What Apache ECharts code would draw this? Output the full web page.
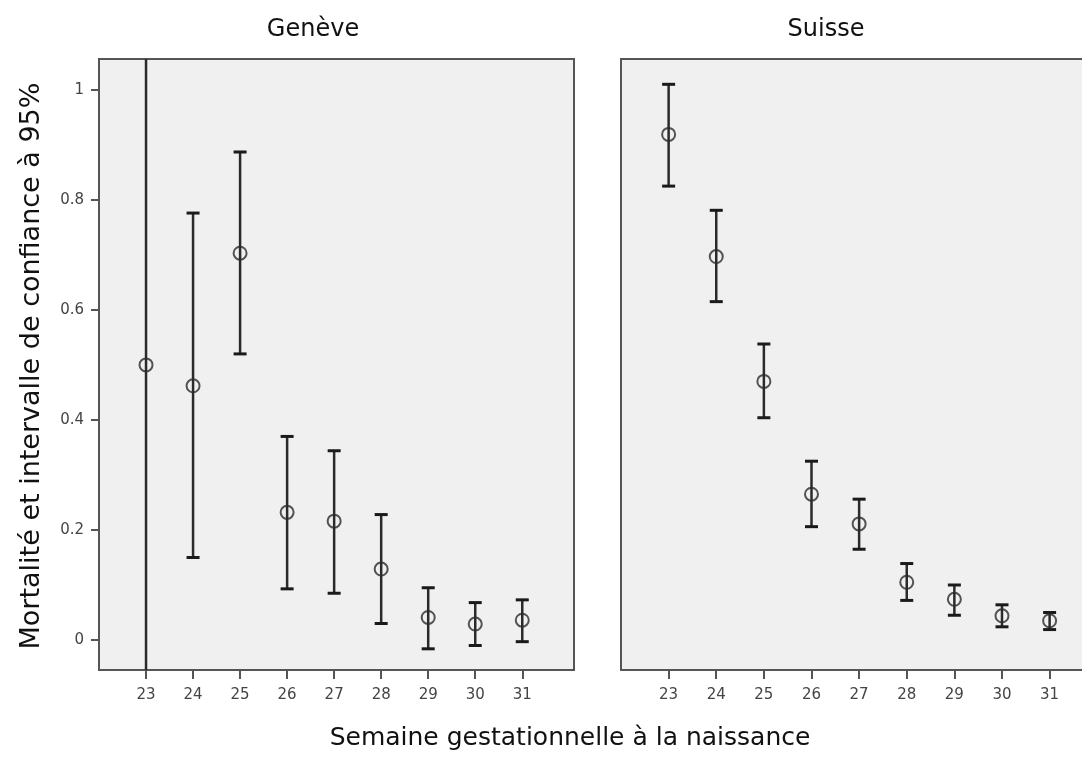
<!DOCTYPE html>
<html>
<head>
<meta charset="utf-8">
<script src="https://cdn.jsdelivr.net/npm/echarts@6/dist/echarts.min.js"></script>
<style>
html,body{margin:0;padding:0;background:#fff;}
#chart{width:1082px;height:760px;}
</style>
</head>
<body>
<div id="chart"></div>
<script>
// ---- data ----
const weeks = [23, 24, 25, 26, 27, 28, 29, 30, 31];
const genevaMort = [0.500, 0.462, 0.703, 0.232, 0.216, 0.129, 0.041, 0.029, 0.036];
const genevaLow  = [-0.19, 0.150, 0.520, 0.093, 0.085, 0.030, -0.016, -0.010, -0.003];
const genevaHigh = [1.19, 0.776, 0.887, 0.370, 0.344, 0.228, 0.095, 0.068, 0.073];
const suisseMort = [0.919, 0.697, 0.470, 0.265, 0.211, 0.105, 0.074, 0.044, 0.035];
const suisseLow  = [0.825, 0.615, 0.404, 0.206, 0.165, 0.072, 0.045, 0.024, 0.019];
const suisseHigh = [1.010, 0.781, 0.538, 0.325, 0.256, 0.139, 0.100, 0.064, 0.050];
const yTicks = [0, 0.2, 0.4, 0.6, 0.8, 1];
const panelTitles = ['Genève', 'Suisse'];
const yTitle = 'Mortalité et intervalle de confiance à 95%';
const xTitle = 'Semaine gestationnelle à la naissance';

const FONT = 'DejaVu Sans';
const chart = echarts.init(document.getElementById('chart'), null, {renderer: 'canvas'});

function errRender(params, api) {
  const x = api.value(0), lo = api.value(1), hi = api.value(2);
  const pHi = api.coord([x, hi]);
  const pLo = api.coord([x, lo]);
  const hw = 6.5;
  return {
    type: 'group',
    children: [
      {type: 'line', shape: {x1: pHi[0], y1: pHi[1], x2: pLo[0], y2: pLo[1]}, style: {stroke: '#2a2a2a', lineWidth: 2.5}},
      {type: 'line', shape: {x1: pHi[0] - hw, y1: pHi[1], x2: pHi[0] + hw, y2: pHi[1]}, style: {stroke: '#1a1a1a', lineWidth: 3}},
      {type: 'line', shape: {x1: pLo[0] - hw, y1: pLo[1], x2: pLo[0] + hw, y2: pLo[1]}, style: {stroke: '#1a1a1a', lineWidth: 3}}
    ]
  };
}

function xAxisCfg(gi, max) {
  return {
    type: 'value', gridIndex: gi, min: 22, max: max,
    axisLine: {show: true, onZero: false, lineStyle: {color: '#555', width: 2}},
    axisTick: {show: true, customValues: weeks, length: 9, lineStyle: {color: '#555', width: 2}},
    axisLabel: {show: true, customValues: weeks, margin: 18, color: '#444', fontSize: 15, fontFamily: FONT},
    splitLine: {show: false}
  };
}
function yAxisCfg(gi, labels) {
  return {
    type: 'value', gridIndex: gi, min: -0.0545, max: 1.056,
    axisLine: {show: true, onZero: false, lineStyle: {color: '#555', width: 2}},
    axisTick: {show: labels, customValues: yTicks, length: 8, lineStyle: {color: '#555', width: 2}},
    axisLabel: {show: labels, customValues: yTicks, margin: 15, color: '#444', fontSize: 15, fontFamily: FONT},
    splitLine: {show: false}
  };
}

const gridStyle = {show: true, backgroundColor: '#f0f0f0', borderColor: '#555', borderWidth: 2, containLabel: false};
const topLine = {
  type: 'value', gridIndex: 1, position: 'top', min: 22, max: 31.68,
  axisLine: {show: true, onZero: false, lineStyle: {color: '#555', width: 2}},
  axisTick: {show: false}, axisLabel: {show: false}, splitLine: {show: false}
};

chart.setOption({
  animation: false,
  backgroundColor: '#ffffff',
  grid: [
    Object.assign({left: 99, top: 59, width: 475, height: 611}, gridStyle),
    Object.assign({}, gridStyle, {left: 621, top: 59, width: 461, height: 611, borderWidth: 0})
  ],
  xAxis: [xAxisCfg(0, 32.1), xAxisCfg(1, 31.68), topLine],
  yAxis: [yAxisCfg(0, true), yAxisCfg(1, false)],
  graphic: [
    {type: 'text', x: 313, y: 30, style: {text: panelTitles[0], align: 'center', verticalAlign: 'middle', font: '24px "' + FONT + '"', fill: '#111'}},
    {type: 'text', x: 826, y: 30, style: {text: panelTitles[1], align: 'center', verticalAlign: 'middle', font: '24px "' + FONT + '"', fill: '#111'}},
    {type: 'text', x: 570, y: 738, style: {text: xTitle, align: 'center', verticalAlign: 'middle', font: '25px "' + FONT + '"', fill: '#111'}},
    {type: 'text', x: 32, y: 366, rotation: Math.PI / 2, style: {text: yTitle, align: 'center', verticalAlign: 'middle', font: '27px "' + FONT + '"', fill: '#111'}}
  ],
  series: [
    {type: 'custom', xAxisIndex: 0, yAxisIndex: 0, clip: true, renderItem: errRender,
     data: weeks.map((w, i) => [w, genevaLow[i], genevaHigh[i]]), z: 2},
    {type: 'custom', xAxisIndex: 1, yAxisIndex: 1, clip: true, renderItem: errRender,
     data: weeks.map((w, i) => [w, suisseLow[i], suisseHigh[i]]), z: 2},
    {type: 'scatter', xAxisIndex: 0, yAxisIndex: 0, symbol: 'circle', symbolSize: 13,
     itemStyle: {color: 'rgba(0,0,0,0)', borderColor: '#2a2a2a', borderWidth: 2},
     data: weeks.map((w, i) => [w, genevaMort[i]]), z: 3},
    {type: 'scatter', xAxisIndex: 1, yAxisIndex: 1, symbol: 'circle', symbolSize: 13,
     itemStyle: {color: 'rgba(0,0,0,0)', borderColor: '#2a2a2a', borderWidth: 2},
     data: weeks.map((w, i) => [w, suisseMort[i]]), z: 3}
  ]
});
</script>
</body>
</html>
